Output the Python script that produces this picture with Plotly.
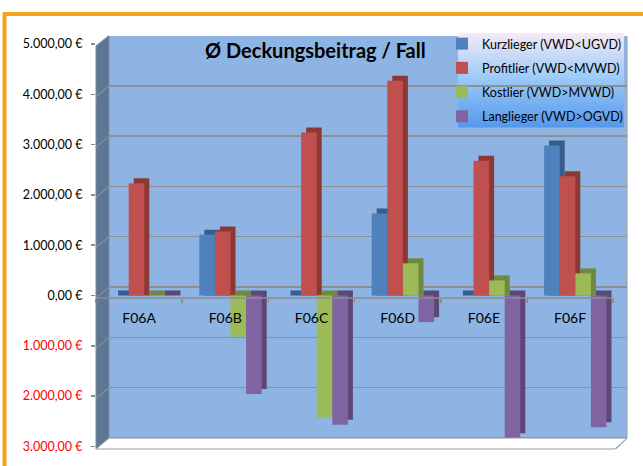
import plotly.graph_objects as go

# ---------------- data ----------------
CATEGORIES = ["F06A", "F06B", "F06C", "F06D", "F06E", "F06F"]
SERIES_NAMES = ["Kurzlieger (VWD<UGVD)", "Profitlier (VWD<MVWD)",
                "Kostlier (VWD>MVWD)", "Langlieger (VWD>OGVD)"]
KURZLIEGER = [0, 1210, 0, 1630, 0, 2980]
PROFITLIER = [2230, 1270, 3240, 4270, 2680, 2370]
KOSTLIER = [0, -820, -2430, 640, 300, 440]
LANGLIEGER = [0, -1960, -2570, -530, -2840, -2620]
TICK_VALUES = [5000, 4000, 3000, 2000, 1000, 0, -1000, -2000, -3000]
TITLE = "Ø Deckungsbeitrag / Fall"

SERIES = [KURZLIEGER, PROFITLIER, KOSTLIER, LANGLIEGER]
FRONT = ["#4f81bd", "#c0504d", "#9bbb59", "#8064a2"]
SIDE = ["#385d8a", "#8c3836", "#71893f", "#5c4776"]

# ---------------- geometry (pixels) ----------------
W, H = 643, 466
L, R, T, B = 96, 627, 36, 449
K = 50.3 / 1000.0          # px per unit
Z_FRONT, Z_BACK = 295.5, 287.0
CAT_PX = 86.2
FONT = "Lato, 'Open Sans', sans-serif"


def px(x):
    return (x - L) / (R - L)


def py(y):
    return (B - y) / (B - T)


def de(v):
    s = f"{abs(v):,.2f}".replace(",", "X").replace(".", ",").replace("X", ".")
    return s + " €"


ticktext = [de(v) if v >= 0 else f'<span style="color:#ff0000">{de(v)}</span>'
            for v in TICK_VALUES]

bar_w = 15.6 / CAT_PX
g0 = -26.0 / CAT_PX
shift = 5.0 / CAT_PX
depth = 5.0 / K

fig = go.Figure()

# side / top faces (3D effect): box extended by the depth, shifted right
for i, vals in enumerate(SERIES):
    side_base = [depth if v < 0 else 0 for v in vals]
    side_len = [v if v < 0 else v + depth for v in vals]
    fig.add_trace(go.Bar(
        x=CATEGORIES, y=side_len, base=side_base,
        offset=g0 + bar_w * i + shift, width=bar_w,
        marker=dict(color=SIDE[i], line=dict(width=0)),
        showlegend=False, hoverinfo="skip"))

# front faces
for i, vals in enumerate(SERIES):
    fig.add_trace(go.Bar(
        x=CATEGORIES, y=vals, name=SERIES_NAMES[i],
        offset=g0 + bar_w * i, width=bar_w,
        marker=dict(color=FRONT[i], line=dict(width=0)),
        legendgroup=f"g{i}"))

# invisible trace for the back-wall grid axis
fig.add_trace(go.Scatter(x=[CATEGORIES[0]], y=[0], yaxis="y2", mode="markers",
                         marker=dict(opacity=0), showlegend=False, hoverinfo="skip"))

shapes = []
# legend gradient background
lx0, lx1, ly0, ly1 = 458, 624, 33, 127
N = 40
stops = [(0.0, (246, 234, 246)), (0.45, (160, 205, 248)), (1.0, (84, 152, 236))]


def grad(t):
    for (t0, c0), (t1, c1) in zip(stops[:-1], stops[1:]):
        if t <= t1:
            f = (t - t0) / (t1 - t0)
            return "rgb(%d,%d,%d)" % tuple(round(a + (b - a) * f) for a, b in zip(c0, c1))
    return "rgb(%d,%d,%d)" % stops[-1][1]


for k in range(N):
    y0 = ly0 + (ly1 - ly0) * k / N
    y1 = ly0 + (ly1 - ly0) * (k + 1) / N + 0.6
    shapes.append(dict(type="rect", xref="paper", yref="paper", layer="below",
                       x0=px(lx0), x1=px(lx1), y0=py(y1), y1=py(y0),
                       line=dict(width=0), fillcolor=grad((k + 0.5) / N)))

# left wall
shapes.append(dict(type="path", xref="paper", yref="paper", layer="above",
                   path=f"M {px(96)},{py(46)} L {px(109)},{py(36)} L {px(109)},{py(438)} L {px(96)},{py(449)} Z",
                   fillcolor="#5b7797", line=dict(color="#8a8a8a", width=1)))
# white triangle above the wall
shapes.append(dict(type="path", xref="paper", yref="paper", layer="above",
                   path=f"M {px(95)},{py(35)} L {px(109)},{py(35)} L {px(95.5)},{py(45.5)} Z",
                   fillcolor="white", line=dict(width=0)))
# floor
shapes.append(dict(type="path", xref="paper", yref="paper", layer="above",
                   path=f"M {px(109)},{py(438)} L {px(627)},{py(438)} L {px(615)},{py(449)} L {px(96)},{py(449)} Z",
                   fillcolor="#ffffff", line=dict(color="#9a9a9a", width=1)))
shapes.append(dict(type="path", xref="paper", yref="paper", layer="above",
                   path=f"M {px(627.5)},{py(438.5)} L {px(628)},{py(450)} L {px(615.5)},{py(450)} Z",
                   fillcolor="white", line=dict(width=0)))
# diagonal tick connectors on the wall
for v in TICK_VALUES:
    yf = Z_FRONT - v * K + 2.5 if v != 5000 else 46
    yb = Z_BACK - v * K
    shapes.append(dict(type="line", xref="paper", yref="paper", layer="above",
                       x0=px(96), y0=py(yf), x1=px(109), y1=py(yb),
                       line=dict(color="#9a9a9a", width=1)))
# front category axis line at zero
shapes.append(dict(type="line", xref="x", yref="paper", layer="above",
                   x0=-0.5, x1=len(CATEGORIES) - 0.5, y0=py(298), y1=py(298),
                   line=dict(color="#8c8c8c", width=1.5)))
# back wall right border
shapes.append(dict(type="line", xref="paper", yref="paper", layer="below",
                   x0=1, x1=1, y0=py(438), y1=py(36),
                   line=dict(color="#9a9a9a", width=1)))
# orange chart frame
shapes.append(dict(type="rect", xref="paper", yref="paper", layer="above",
                   x0=px(4.5), x1=px(700), y0=py(520), y1=py(14),
                   line=dict(color="#f5a51b", width=4), fillcolor="rgba(0,0,0,0)"))

fig.update_layout(
    width=W, height=H,
    margin=dict(l=L, r=W - R, t=T, b=H - B, pad=0),
    paper_bgcolor="white", plot_bgcolor="#8db4e2",
    barmode="overlay",
    font=dict(family=FONT, size=13, color="black"),
    showlegend=True,
    legend=dict(x=px(442), y=py(29), xanchor="left", yanchor="top",
                bgcolor="rgba(0,0,0,0)", borderwidth=0,
                font=dict(family=FONT, size=12.5, color="black"),
                tracegroupgap=5, itemclick=False, itemdoubleclick=False),
    xaxis=dict(range=[-0.5, -0.5 + (R - L) / CAT_PX], type="category",
               anchor="free", position=py(298), showline=False,
               showgrid=False, zeroline=False,
               ticks="outside", tickson="boundaries", ticklen=4,
               tickcolor="#8c8c8c", tickwidth=1.5,
               tickfont=dict(family=FONT, size=14, color="black"),
               ticklabelstandoff=10),
    yaxis=dict(range=[-(B - Z_FRONT) / K, (Z_FRONT - T) / K],
               tickvals=TICK_VALUES, ticktext=ticktext,
               showgrid=False, zeroline=False, showline=False,
               ticks="outside", ticklen=4, tickcolor="#8c8c8c", tickwidth=1.5,
               ticklabelstandoff=6,
               tickfont=dict(family=FONT, size=12.5, color="black")),
    yaxis2=dict(range=[-(B - Z_BACK) / K, (Z_BACK - T) / K], overlaying="y",
                side="left", tickvals=TICK_VALUES, showticklabels=False,
                showgrid=True, gridcolor="#8f8f8f", gridwidth=1.5,
                zeroline=False, showline=False, ticks=""),
    shapes=shapes,
    annotations=[dict(text=f"<b>{TITLE}</b>", xref="paper", yref="paper",
                      x=px(315), y=py(50), xanchor="center", yanchor="middle",
                      showarrow=False, font=dict(family=FONT, size=20, color="black"))],
    hovermode=False,
)

fig.write_html("out.html",
               config={"displayModeBar": False, "staticPlot": True},
               post_script="document.body.style.margin='0';document.body.style.padding='0';")
